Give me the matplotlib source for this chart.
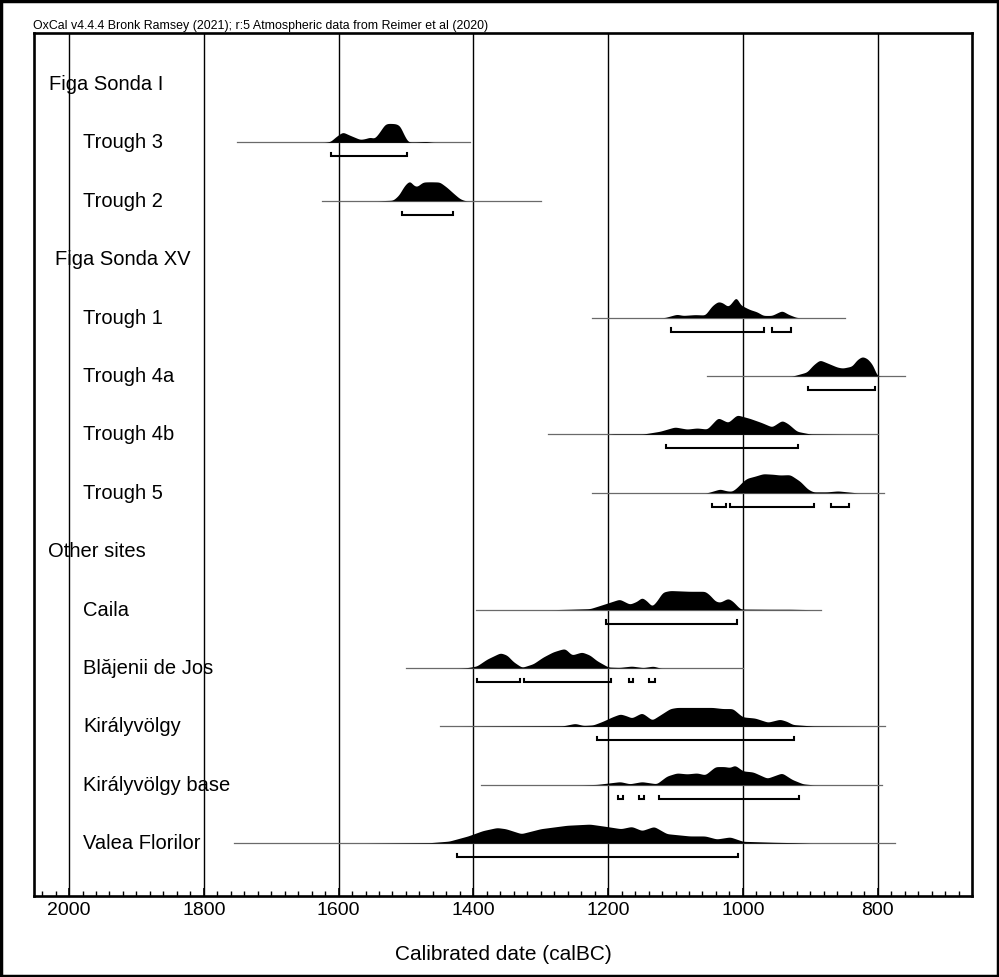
import matplotlib
matplotlib.use("Agg")
import matplotlib.pyplot as plt
from matplotlib.patches import Rectangle
import numpy as np

plt.rcParams['font.family'] = ['Liberation Sans', 'DejaVu Sans']

# ---------------- data ----------------
header = "OxCal v4.4.4 Bronk Ramsey (2021); r:5 Atmospheric data from Reimer et al (2020)"
x_label = "Calibrated date (calBC)"
tick_years = [2000, 1800, 1600, 1400, 1200, 1000, 800]

group_labels = ["Figa Sonda I", "Figa Sonda XV", "Other sites"]
group_rows = [0, 3, 8]

item_labels = ["Trough 3", "Trough 2", "Trough 1", "Trough 4a", "Trough 4b", "Trough 5",
               "Caila", "Blăjenii de Jos", "Királyvölgy", "Királyvölgy base", "Valea Florilor"]
item_rows = [1, 2, 4, 5, 6, 7, 9, 10, 11, 12, 13]

# horizontal extent of each plotted range (calBC)
line_start = [1751, 1625, 1224, 1053, 1289, 1224, 1396, 1500, 1450, 1389, 1755]
line_end = [1405, 1300, 849, 760, 800, 791, 884, 1000, 789, 794, 774]

# probability distributions: years and relative probability
trough3_yr = [1620, 1612, 1604, 1594, 1585, 1568, 1560, 1553, 1547, 1541, 1531, 1525, 1515, 1509, 1503, 1497, 1485, 1470, 1460]
trough3_p = [0, 0.05, 0.3, 0.55, 0.4, 0.15, 0.2, 0.28, 0.2, 0.45, 0.97, 1.0, 0.98, 0.88, 0.4, 0.02, 0.02, 0.05, 0]

trough2_yr = [1540, 1534, 1519, 1510, 1506, 1501, 1494, 1490, 1484, 1475, 1464, 1450, 1439, 1430, 1420, 1412]
trough2_p = [0, 0.01, 0.03, 0.3, 0.55, 0.8, 1.0, 0.78, 0.68, 0.92, 0.93, 0.92, 0.65, 0.38, 0.1, 0]

trough1_yr = [1116, 1098, 1089, 1071, 1056, 1046, 1037, 1030, 1022, 1015, 1010, 1004, 990, 979, 970, 957, 942, 933, 920]
trough1_p = [0, 0.16, 0.1, 0.14, 0.12, 0.55, 0.76, 0.7, 0.5, 0.76, 1.0, 0.6, 0.38, 0.27, 0.1, 0.1, 0.33, 0.16, 0]

trough4a_yr = [926, 905, 896, 886, 874, 860, 852, 838, 831, 823, 815, 807, 801]
trough4a_p = [0, 0.2, 0.55, 0.82, 0.65, 0.45, 0.4, 0.5, 0.82, 1.0, 0.88, 0.55, 0]

trough4b_yr = [1200, 1193, 1148, 1123, 1101, 1083, 1068, 1053, 1037, 1022, 1009, 990, 972, 957, 942, 933, 920, 900, 850]
trough4b_p = [0, 0.02, 0.02, 0.16, 0.38, 0.27, 0.33, 0.27, 0.86, 0.6, 1.0, 0.82, 0.6, 0.38, 0.72, 0.55, 0.16, 0.02, 0]

trough5_yr = [1053, 1034, 1024, 1016, 1009, 1000, 994, 982, 970, 955, 945, 930, 915, 904, 896, 875, 859, 831]
trough5_p = [0, 0.2, 0.1, 0.08, 0.27, 0.6, 0.76, 0.87, 1.0, 0.97, 0.93, 0.95, 0.6, 0.2, 0.05, 0.05, 0.1, 0]

caila_yr = [1280, 1257, 1227, 1217, 1202, 1183, 1168, 1157, 1150, 1142, 1135, 1128, 1119, 1108, 1079, 1056, 1049, 1041, 1034, 1022, 1015, 1004, 960, 930, 900]
caila_p = [0, 0.02, 0.05, 0.16, 0.33, 0.55, 0.28, 0.44, 0.65, 0.44, 0.16, 0.44, 0.92, 1.0, 0.96, 0.96, 0.76, 0.44, 0.38, 0.6, 0.44, 0.03, 0.02, 0.02, 0]

blaj_yr = [1420, 1409, 1395, 1380, 1360, 1350, 1341, 1328, 1311, 1297, 1282, 1271, 1264, 1254, 1239, 1227, 1217, 1200, 1183, 1165, 1148, 1133, 1123]
blaj_p = [0, 0.02, 0.1, 0.45, 0.78, 0.66, 0.33, 0.03, 0.22, 0.55, 0.82, 0.94, 1.0, 0.66, 0.82, 0.66, 0.38, 0.05, 0.03, 0.1, 0.02, 0.1, 0]

kir_yr = [1420, 1380, 1267, 1249, 1237, 1222, 1208, 1194, 1182, 1172, 1165, 1150, 1143, 1135, 1123, 1108, 1098, 1068, 1045, 1030, 1015, 1004, 1000, 982, 963, 945, 935, 926, 896, 822]
kir_p = [0, 0.01, 0.03, 0.16, 0.05, 0.08, 0.27, 0.5, 0.66, 0.55, 0.44, 0.72, 0.55, 0.33, 0.6, 0.94, 1.0, 1.0, 1.0, 0.94, 0.94, 0.6, 0.5, 0.44, 0.22, 0.38, 0.27, 0.1, 0.02, 0]

kirbase_yr = [1240, 1217, 1182, 1168, 1150, 1128, 1113, 1098, 1083, 1068, 1056, 1041, 1027, 1019, 1012, 1000, 985, 964, 942, 927, 911, 896]
kirbase_p = [0, 0.02, 0.16, 0.05, 0.16, 0.05, 0.44, 0.6, 0.55, 0.6, 0.5, 0.92, 0.92, 0.87, 1.0, 0.7, 0.65, 0.33, 0.6, 0.27, 0.05, 0]

valea_yr = [1560, 1498, 1464, 1436, 1408, 1386, 1365, 1352, 1329, 1300, 1261, 1227, 1203, 1181, 1165, 1150, 1132, 1113, 1079, 1056, 1039, 1019, 1000, 954, 926, 900]
valea_p = [0, 0.02, 0.03, 0.11, 0.38, 0.66, 0.82, 0.76, 0.5, 0.76, 0.94, 1.0, 0.88, 0.76, 0.88, 0.66, 0.88, 0.5, 0.38, 0.38, 0.22, 0.33, 0.1, 0.05, 0.03, 0]

dist_years = [trough3_yr, trough2_yr, trough1_yr, trough4a_yr, trough4b_yr, trough5_yr,
              caila_yr, blaj_yr, kir_yr, kirbase_yr, valea_yr]
dist_probs = [trough3_p, trough2_p, trough1_p, trough4a_p, trough4b_p, trough5_p,
              caila_p, blaj_p, kir_p, kirbase_p, valea_p]

# 95.4% ranges (calBC, start, end)
ranges = [
    [(1611, 1498)],
    [(1506, 1430)],
    [(1107, 969), (957, 929)],
    [(903, 804)],
    [(1114, 918)],
    [(1046, 1025), (1019, 895), (869, 843)],
    [(1203, 1009)],
    [(1395, 1331), (1325, 1196), (1169, 1163), (1139, 1130)],
    [(1217, 924)],
    [(1185, 1178), (1154, 1147), (1125, 917)],
    [(1424, 1007)],
]


def smooth_curve(yrs, p, sigma=2.5, step=0.5):
    """Render the read points as a soft outline (drawing aid only)."""
    yrs = np.asarray(yrs, dtype=float)
    p = np.asarray(p, dtype=float)
    order = np.argsort(yrs)
    yrs, p = yrs[order], p[order]
    grid = np.arange(yrs[0] - 4 * sigma, yrs[-1] + 4 * sigma + step, step)
    vals = np.interp(grid, yrs, p, left=0, right=0)
    k = np.arange(-4 * sigma, 4 * sigma + step, step)
    kern = np.exp(-0.5 * (k / sigma) ** 2)
    kern /= kern.sum()
    sm = np.convolve(vals, kern, mode='same')
    sm = sm / sm.max() * p.max()
    return grid, sm


# ---------------- figure ----------------
W, H = 999, 977
fig = plt.figure(figsize=(W / 100, H / 100), dpi=100)
ax = fig.add_axes([34 / W, 1 - 896 / H, (972 - 34) / W, (896 - 33) / H])

ax.set_xlim(2052, 660)
ax.set_ylim(13.904, -0.873)

for yr in tick_years:
    ax.axvline(yr, color='black', lw=1.0, zorder=1)

dist_h = 0.325
br_off = 0.24
br_hook = 0.055

for i, row in enumerate(item_rows):
    ax.plot([line_start[i], line_end[i]], [row, row], color='#6a6a6a', lw=0.9, zorder=2)
    p = np.array(dist_probs[i], dtype=float)
    p = p / p.max()
    gx, gp = smooth_curve(dist_years[i], p)
    ax.fill_between(gx, row, row - dist_h * gp, color='black', lw=0, zorder=3)
    yb = row + br_off
    for (a, b) in ranges[i]:
        ax.plot([a, a, b, b], [yb - br_hook, yb, yb, yb - br_hook], color='black', lw=1.5,
                solid_joinstyle='miter', zorder=3)
    ax.text(1979, row + 0.01, item_labels[i], fontsize=14.5, ha='left', va='center', zorder=4)

group_x = [2030, 2021, 2031]
for lab, row, gx in zip(group_labels, group_rows, group_x):
    ax.text(gx, row + 0.01, lab, fontsize=14.5, ha='left', va='center', zorder=4)

ax.set_xticks(tick_years)
ax.set_xticklabels([str(t) for t in tick_years], fontsize=14)
ax.set_xticks(np.arange(2040, 660, -20), minor=True)
ax.tick_params(axis='x', which='major', direction='in', length=6, width=1.2, pad=4)
ax.tick_params(axis='x', which='minor', direction='in', length=3.5, width=1.0)
ax.set_yticks([])
for s in ax.spines.values():
    s.set_linewidth(1.9)
ax.set_xlabel(x_label, fontsize=15, labelpad=19)

fig.text(33 / W, 1 - 26 / H, header, fontsize=8.9, ha='left', va='center')

fig.patches.append(Rectangle((0.0015, 0.0015), 0.997, 0.997, transform=fig.transFigure,
                             fill=False, edgecolor='black', lw=2.5))

fig.savefig("out.png", dpi=100)
